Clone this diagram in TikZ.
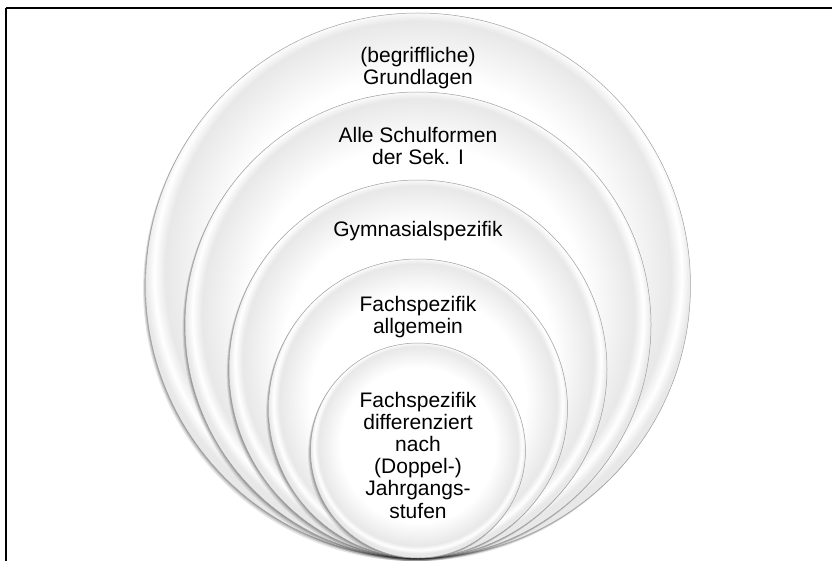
\documentclass[tikz,border=0pt]{standalone}
\usepackage{fontspec}
\setmainfont{Liberation Sans}
\usepackage{xcolor}
\definecolor{RimGray}{HTML}{A0A0A0}
\definecolor{EdgeGray}{HTML}{E8E8E8}
\definecolor{FrameBlack}{HTML}{000000}
\usetikzlibrary{shadows}
% White disc with a soft grey band near its rim
\pgfdeclareradialshading{ringshade}{\pgfpoint{0bp}{2bp}}{color(0bp)=(white); color(18bp)=(white); color(23.2bp)=(EdgeGray); color(24.2bp)=(white); color(25bp)=(EdgeGray); color(50bp)=(EdgeGray)}

\begin{document}
\begin{tikzpicture}[
        x=1pt, y=-1pt,
        ring/.style={circle, inner sep=0pt, draw=RimGray, line width=0.5pt, shading=ringshade,
            drop shadow={shadow xshift=-0.6pt, shadow yshift=-0.8pt, opacity=0.18, fill=black},
            drop shadow={shadow xshift=-1.4pt, shadow yshift=-1.9pt, opacity=0.14, fill=black},
            drop shadow={shadow xshift=-2.4pt, shadow yshift=-3.2pt, opacity=0.10, fill=black}},
        ringtext/.style={align=center, font=\fontsize{21}{22.2}\selectfont, text=black, inner sep=1pt},
        frame/.style={line width=2pt, FrameBlack}
    ]
        \useasboundingbox (0,0) rectangle (832,561);

        % Open frame along the top and left margin
        \draw[frame] (6,8) -- (832,8);
        \draw[frame] (6,8) -- (6,561);

        % Nested circles, all touching at the bottom point
        \foreach \r/\name in {272.5/grund, 233/sek, 189/gym, 149.5/fach, 107.5/jahr} {
            \node[ring, minimum size={2*\r pt}] (\name) at (418,{558-\r}) {};
        }

        % Labels
        \node[ringtext] (grundtext) at (418,68) {(begriffliche)\\Grundlagen};
        \node[ringtext] (sektext) at (418,146) {Alle Schulformen\\der Sek. I};
        \node[ringtext] (gymtext) at (418,231) {Gymnasialspezifik};
        \node[ringtext] (fachtext) at (418,317) {Fachspezifik\\allgemein};
        \node[ringtext] (jahrtext) at (418,455) {Fachspezifik\\differenziert\\nach\\(Doppel-)\\Jahrgangs-\\stufen};
    \end{tikzpicture}
\end{document}
